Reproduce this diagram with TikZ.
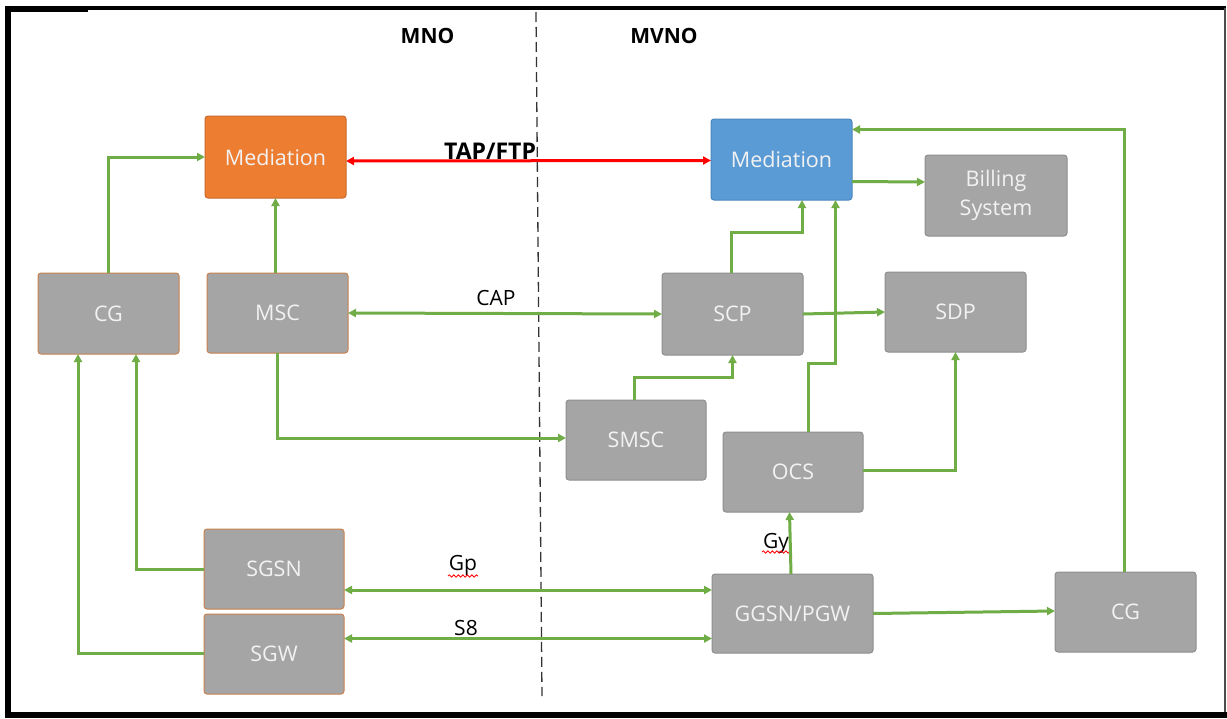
\documentclass[tikz,border=0pt]{standalone}
\usepackage{fontspec}
\setmainfont{Open Sans}
\usetikzlibrary{arrows.meta,calc,decorations.pathmorphing}
\definecolor{boxgray}{HTML}{A5A5A5}
\definecolor{boxedge}{HTML}{8E8E8E}
\definecolor{mnoedge}{HTML}{C9804C}
\definecolor{medorange}{HTML}{ED7D31}
\definecolor{medorangeedge}{HTML}{C96A2B}
\definecolor{medblue}{HTML}{5B9BD5}
\definecolor{medblueedge}{HTML}{4A86BD}
\definecolor{lnkgreen}{HTML}{70AD47}
\definecolor{boxtext}{HTML}{F2F2F2}
\definecolor{tapred}{HTML}{FF0000}
\tikzset{
  base box/.style={rectangle, rounded corners=3pt, inner sep=0pt, outer sep=0pt,
    line width=1pt, text=boxtext, align=center,
    font=\fontsize{21.5}{29}\selectfont},
  graybox/.style={base box, fill=boxgray, draw=boxedge},
  mnobox/.style={base box, fill=boxgray, draw=mnoedge},
  orangebox/.style={base box, fill=medorange, draw=medorangeedge},
  bluebox/.style={base box, fill=medblue, draw=medblueedge},
  link/.style={draw=lnkgreen, line width=3pt, -{Triangle[length=8pt,width=8pt]}},
  link2/.style={draw=lnkgreen, line width=3pt, {Triangle[length=8pt,width=8pt]}-{Triangle[length=8pt,width=8pt]}},
  redlink/.style={draw=tapred, line width=3pt, {Triangle[length=8pt,width=8pt]}-{Triangle[length=8pt,width=8pt]}},
  lbl/.style={anchor=base, inner sep=0pt, text=black, font=\fontsize{21}{25}\selectfont},
  blbl/.style={anchor=base, inner sep=0pt, text=black, font=\bfseries\fontsize{21}{25}\selectfont},
  spell/.style={draw=tapred, line width=0.8pt, decorate, decoration={snake, segment length=4.5pt, amplitude=1.2pt}}
}
\begin{document}
\begin{tikzpicture}[x=1pt,y=-1pt]
\useasboundingbox (0,0) rectangle (1227,718);
\fill[white] (0,0) rectangle (1227,718);
% frame
\draw[black, line width=6pt] (8,6) -- (8,718);
\draw[black, line width=6pt] (5,9) -- (88,9);
\draw[black, line width=4pt] (88,8) -- (1226,8);
\draw[black!70, line width=2pt] (1225,8) -- (1225,712);
\draw[black, line width=6pt] (5,715) -- (1227,715);
% divider
\coordinate (dtop) at (536,12);
\coordinate (dbot) at (542,696);
\draw[black!80, line width=1.3pt, dash pattern=on 10pt off 5pt] (dtop) -- (dbot);

% nodes
\node[orangebox, minimum width=141pt, minimum height=82pt] (medL) at (275.5,157) {Mediation};
\node[bluebox, minimum width=141pt, minimum height=81pt] (medR) at (781.5,159.5) {Mediation};
\node[graybox, minimum width=142pt, minimum height=81pt] (bill) at (996,195.5) {Billing\\System};
\node[mnobox, minimum width=141pt, minimum height=81pt] (cgL) at (108.5,313.5) {CG};
\node[mnobox, minimum width=141pt, minimum height=80pt] (msc) at (277.5,313) {MSC};
\node[graybox, minimum width=141pt, minimum height=82pt] (scp) at (732.5,314) {SCP};
\node[graybox, minimum width=141pt, minimum height=80pt] (sdp) at (955.5,312) {SDP};
\node[graybox, minimum width=140pt, minimum height=80pt] (smsc) at (636,440) {SMSC};
\node[graybox, minimum width=140pt, minimum height=80pt] (ocs) at (793,472) {OCS};
\node[mnobox, minimum width=140pt, minimum height=80pt] (sgsn) at (274,569) {SGSN};
\node[mnobox, minimum width=140pt, minimum height=80pt] (sgw) at (274,654) {SGW};
\node[graybox, minimum width=161pt, minimum height=79pt] (ggsn) at (792.5,613.5) {GGSN/PGW};
\node[graybox, minimum width=141pt, minimum height=80pt] (cgR) at (1125.5,612) {CG};

% labels
\node[blbl] (mno) at (427.5,43) {MNO};
\node[blbl] (mvno) at (664,43) {MVNO};
\node[anchor=base, inner sep=0pt, font=\bfseries\fontsize{23}{27}\selectfont] (tap) at (490,159) {TAP/FTP};
\node[lbl] (cap) at (496,305) {CAP};
\node[lbl] (gp) at (463,570) {Gp};
\node[lbl] (s8) at (466,635) {S8};
\node[lbl] (gy) at (776,548) {Gy};
\draw[spell] (448,576) -- (478,576);
\draw[spell] (762,552) -- (790,552);

% connectors
\draw[redlink] ($(medL.east)+(0,4)$) -- ($(medR.west)+(0,1)$);
\draw[link] (cgL.north) |- (medL.west);
\draw[link] ($(msc.north)+(-2,0)$) -- ($(medL.south)+(0,0)$);
\draw[link2] (msc.east) -- (scp.west);
\draw[link] (msc.south) |- ($(smsc.west)+(0,-2)$);
\draw[link] ($(smsc.north)+(-2,0)$) -- ++(0,-23) -| (scp.south);
\draw[link] ($(scp.north)+(-1,0)$) -- ++(0,-41) -| ($(medR.south)+(20.5,0)$);
\draw[link] ($(ocs.north)+(15,0)$) -- ++(0,-69) -| ($(medR.south)+(54,0)$);
\draw[link] (scp.east) -- (sdp.west);
\draw[link] ($(ocs.east)+(0,-2)$) -| (sdp.south);
\draw[link] ($(medR.east)+(0,22)$) -- ($(bill.west)+(0,-13.5)$);
\draw[link] ($(ggsn.north)+(-1.5,0)$) -- ($(ocs.south)+(-3.5,0)$);
\draw[link2] ($(sgsn.east)+(0,21)$) -- ($(ggsn.west)+(0,-23.5)$);
\draw[link2] ($(sgw.east)+(0,-15.5)$) -- ($(ggsn.west)+(0,25)$);
\draw[link] (ggsn.east) -- ($(cgR.west)+(0,-1)$);
\draw[link] ($(cgR.north)+(-1.5,0)$) |- ($(medR.east)+(0,-30)$);
\draw[link] (sgsn.west) -| ($(cgL.south)+(27.5,0)$);
\draw[link] ($(sgw.west)+(0,-1)$) -| ($(cgL.south)+(-30.5,0)$);
\end{tikzpicture}
\end{document}
